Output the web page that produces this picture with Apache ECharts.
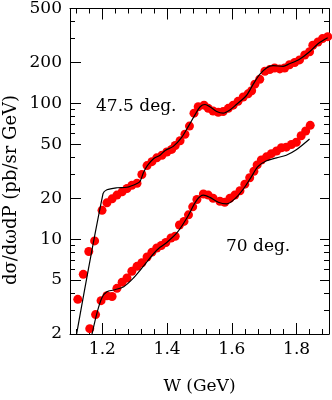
<!DOCTYPE html>
<html>
<head>
<meta charset="utf-8">
<script src="https://cdn.jsdelivr.net/npm/echarts@6/dist/echarts.min.js"></script>
<style>
html, body { margin: 0; padding: 0; background: #fff; }
#chart { width: 332px; height: 400px; }
</style>
</head>
<body>
<div id="chart"></div>
<script>
// measured points, 47.5 deg
let w47 = [1.104,1.124,1.141,1.158,1.176,1.199,1.214,1.230,1.245,1.261,1.276,1.291,1.307,1.322,1.338,1.353,1.368,1.384,1.399,1.414,1.425,1.440,1.455,1.469,1.483,1.496,1.514,1.527,1.542,1.558,1.573,1.589,1.604,1.619,1.635,1.650,1.661,1.671,1.686,1.702,1.717,1.732,1.748,1.763,1.778,1.794,1.809,1.825,1.840,1.850,1.866,1.880,1.896];
let v47 = [1.9,3.6,5.5,8.1,9.7,16.3,18.5,19.8,21.1,22.3,23.6,24.9,25.8,29.9,34.8,37.2,39.7,41.5,43.8,45.8,48.9,53.1,59.2,68.0,84.7,94.5,97.0,91.9,87.9,86.0,87.0,91.9,97.0,103.5,111.4,117.5,124,138.6,150.6,172.6,177.4,182.4,179.5,182.4,192.6,200,209,227,240,268,283,300,310];

// measured points, 70 deg
let w70 = [1.161,1.179,1.196,1.214,1.230,1.245,1.261,1.276,1.291,1.307,1.322,1.338,1.353,1.368,1.382,1.396,1.412,1.425,1.438,1.452,1.466,1.479,1.492,1.512,1.527,1.542,1.563,1.578,1.594,1.609,1.625,1.640,1.655,1.668,1.678,1.691,1.707,1.722,1.738,1.753,1.768,1.784,1.799,1.814,1.828,1.842];
let v70 = [2.19,2.78,3.52,3.83,3.78,4.34,4.82,5.17,5.80,6.30,6.70,7.38,8.02,8.60,8.97,9.45,10.2,10.5,12.7,13.5,15.1,17.3,19.6,21.5,21.1,20.0,19.0,18.7,20.0,21.1,22.7,25.4,28.3,31.6,35.2,38.3,40.4,42.6,44.6,47.1,47.6,49.8,51.7,57.7,62.6,68.9];

// model curves
let fit47W = [1.117,1.202,1.214,1.245,1.276,1.307,1.317,1.327,1.339,1.358,1.378,1.394,1.419,1.445,1.466,1.486,1.502,1.517,1.532,1.553,1.573,1.594,1.614,1.645,1.666,1.686,1.707,1.727,1.758,1.778,1.809,1.840,1.866,1.896];
let fit47V = [1.8,21.6,23.1,23.9,24.1,25.7,26.8,31.0,34.8,39.1,41.5,45.0,48.2,56.1,68.0,82.3,94.5,98.1,94.5,87.1,84.7,89.4,98.1,114.3,138.6,163.3,182.4,189.5,187.5,195.9,211.5,240,275,304];
let fit70W = [1.166,1.184,1.199,1.214,1.235,1.266,1.296,1.327,1.358,1.378,1.399,1.430,1.461,1.491,1.512,1.532,1.558,1.584,1.609,1.635,1.661,1.681,1.707,1.738,1.768,1.799,1.840];
let fit70V = [1.9,2.90,3.72,4.10,4.22,4.46,5.17,6.32,7.80,8.70,9.45,11.1,14.3,19.3,21.1,20.3,18.7,18.2,19.8,23.3,29.0,34.3,37.8,39.7,41.5,45.5,54.6];

// ticks
let xMajor = [1.2,1.4,1.6,1.8];
let xMinor = [1.12,1.16,1.24,1.28,1.32,1.36,1.44,1.48,1.52,1.56,1.64,1.68,1.72,1.76,1.84,1.88];
let yMajor = [2,5,10,20,50,100,200,500];
let yMinor = [3,4,6,7,8,9,30,40,60,70,80,90,300,400];

const FONT = '"DejaVu Serif", serif';
const BLACK = '#000';

function pairs(xs, ys) {
	return xs.map((x, i) => [x, ys[i]]);
}

function xAx(pos, ticks, len, showLine, showLabel) {
	return {
		type: 'value', min: 1.1, max: 1.9, position: pos,
		axisLine: { show: showLine, onZero: false, lineStyle: { color: BLACK, width: 1 } },
		axisTick: { show: true, inside: true, length: len, customValues: ticks, lineStyle: { color: BLACK, width: 1 } },
		axisLabel: { show: showLabel, customValues: ticks, margin: 7, color: BLACK, fontFamily: FONT, fontSize: 17,
			formatter: v => v.toFixed(1) },
		splitLine: { show: false }
	};
}

function yAx(pos, ticks, len, showLabel) {
	let lt = ticks.map(v => Math.log10(v));
	return {
		type: 'value', min: Math.log10(2), max: Math.log10(500), position: pos,
		axisLine: { show: false, onZero: false },
		axisTick: { show: true, inside: true, length: len, customValues: lt, lineStyle: { color: BLACK, width: 1 } },
		axisLabel: { show: showLabel, customValues: lt, margin: 8, color: BLACK, fontFamily: FONT, fontSize: 17,
			formatter: v => String(Math.round(Math.pow(10, v))) },
		splitLine: { show: false }
	};
}

let myChart = echarts.init(document.getElementById('chart'));

let xMain = xAx('bottom', xMajor, 11, true, true);
xMain.name = 'W (GeV)';
xMain.nameLocation = 'middle';
xMain.nameGap = 44;
xMain.nameTextStyle = { color: BLACK, fontFamily: FONT, fontSize: 17 };

let option = {
	animation: false,
	backgroundColor: '#fff',
	grid: { left: 70, top: 7, right: 3, bottom: 57 },
	xAxis: [
		xMain,
		xAx('bottom', xMinor, 5, false, false),
		xAx('top', xMajor, 11, true, false),
		xAx('top', xMinor, 5, false, false)
	],
	yAxis: [
		{
			type: 'log', logBase: 10, min: 2, max: 500, position: 'left',
			axisLine: { show: true, onZero: false, lineStyle: { color: BLACK, width: 1 } },
			axisTick: { show: false }, axisLabel: { show: false }, splitLine: { show: false }
		},
		yAx('left', yMajor, 11, true),
		yAx('left', yMinor, 5, false),
		Object.assign(yAx('right', yMajor, 9, false), { axisLine: { show: true, onZero: false, lineStyle: { color: BLACK, width: 1 } } }),
		yAx('right', yMinor, 5, false)
	],
	graphic: [
		{ type: 'text', x: 11, y: 190, rotation: Math.PI / 2,
			style: { text: 'dσ/dωdP (pb/sr GeV)', font: '18px ' + FONT, fill: BLACK, textAlign: 'center', textVerticalAlign: 'middle' } },
		{ type: 'text', x: 96, y: 107,
			style: { text: '47.5 deg.', font: '17px ' + FONT, fill: BLACK, textAlign: 'left', textVerticalAlign: 'middle' } },
		{ type: 'text', x: 226, y: 247,
			style: { text: '70 deg.', font: '17px ' + FONT, fill: BLACK, textAlign: 'left', textVerticalAlign: 'middle' } }
	],
	series: [
		{ name: 'data 47.5', type: 'scatter', data: pairs(w47, v47), symbolSize: 9, itemStyle: { color: '#ff0000', opacity: 1 }, z: 2 },
		{ name: 'data 70', type: 'scatter', data: pairs(w70, v70), symbolSize: 9, itemStyle: { color: '#ff0000', opacity: 1 }, z: 2 },
		{ name: 'fit 47.5', type: 'line', data: pairs(fit47W, fit47V), smooth: 0.3, showSymbol: false,
			lineStyle: { color: BLACK, width: 1.2 }, z: 3 },
		{ name: 'fit 70', type: 'line', data: pairs(fit70W, fit70V), smooth: 0.3, showSymbol: false,
			lineStyle: { color: BLACK, width: 1.2 }, z: 3 }
	]
};

myChart.setOption(option);
</script>
</body>
</html>
